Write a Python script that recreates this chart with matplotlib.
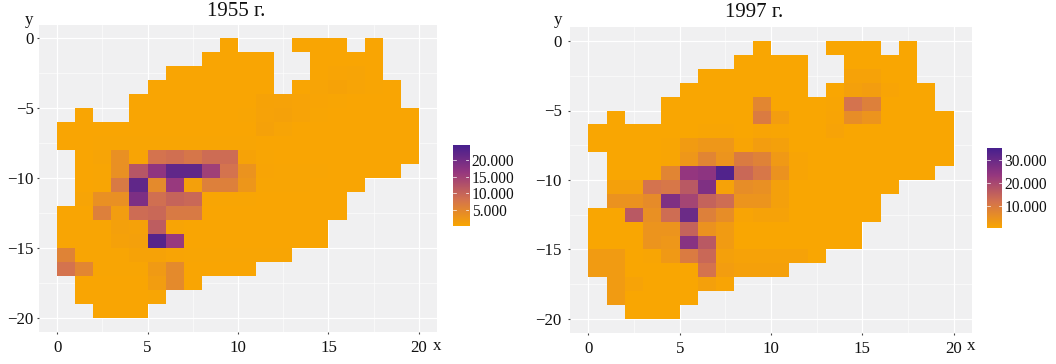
import numpy as np
import matplotlib
matplotlib.use("Agg")
import matplotlib.pyplot as plt
from matplotlib.colors import LinearSegmentedColormap

_ = np.nan
W, H = 1056, 364
COLS = list(range(20))
ROWS = list(range(20))
TICKS_X = [0, 5, 10, 15, 20]
TICKS_Y = [0, -5, -10, -15, -20]
MINOR_X = [2.5, 7.5, 12.5, 17.5]
MINOR_Y = [-2.5, -7.5, -12.5, -17.5]

# values in thousands, rows from y=0 downward, columns from x=0 rightward
V1955 = [
 [_,_,_,_,_,_,_,_,_,.1,_,_,_,.1,.1,.1,_,.1,_,_],
 [_,_,_,_,_,_,_,_,.1,.1,.1,.1,_,_,.1,.1,.1,.1,_,_],
 [_,_,_,_,_,_,.1,.1,.1,.1,.1,.1,_,_,.1,.3,.4,.1,_,_],
 [_,_,_,_,_,.1,.1,.1,.1,.1,.1,.1,_,.1,.4,.6,.4,.2,.1,_],
 [_,_,_,_,.1,.1,.1,.1,.1,.1,.1,.6,.7,.5,.3,.2,.1,.1,.1,_],
 [_,.1,_,_,.1,.1,.1,.1,.1,.1,.2,.7,.8,.5,.2,.1,.1,.1,.1,.1],
 [.1,.1,.1,.1,.1,.1,.1,.1,.1,.1,.1,.8,.4,.1,.1,.1,.1,.1,.1,.1],
 [.1,.1,.2,.2,.2,.2,.2,.2,.2,.2,.2,.1,.1,.1,.1,.1,.1,.1,.1,.1],
 [_,.1,.4,3.5,.3,8,8.5,7.5,9,9,.6,.2,.1,.1,.1,.1,.1,.1,.1,.1],
 [_,.1,.2,3.5,12,17,22,22,15,8,3,.3,.2,.2,.2,.1,.1,.1,.1,_],
 [_,.1,.2,7,22,4.5,16,1,6,6,2.5,.2,.2,.2,.1,.1,.1,_,_,_],
 [_,.4,3.5,3.5,19,8.5,10,9.5,.2,.2,.2,.1,.1,.1,.1,.1,_,_,_,_],
 [.1,.1,6,1.5,9,9.5,7,7,.1,.1,.1,.1,.1,.1,.1,.1,_,_,_,_],
 [.2,.2,.2,1,.8,11,.3,.1,.1,.1,.1,.1,.1,.1,.1,_,_,_,_,_],
 [.2,.2,.2,.8,1,23,16,.1,.1,.1,.1,.1,.1,.1,.1,_,_,_,_,_],
 [5.5,.2,.2,.2,.6,.6,.3,.2,.2,.2,.2,.2,.2,_,_,_,_,_,_,_],
 [8,5,.2,.2,.2,2,4.5,.1,.1,.1,.1,_,_,_,_,_,_,_,_,_],
 [_,.1,.1,.1,.1,1.5,4.5,.1,_,_,_,_,_,_,_,_,_,_,_,_],
 [_,.1,.1,.1,.1,.2,_,_,_,_,_,_,_,_,_,_,_,_,_,_],
 [_,_,.1,.1,.1,_,_,_,_,_,_,_,_,_,_,_,_,_,_,_],
]
V1997 = [
 [_,_,_,_,_,_,_,_,_,.3,_,_,_,.3,.3,.3,_,.3,_,_],
 [_,_,_,_,_,_,_,_,.3,.3,.3,.3,_,_,.5,.5,.4,.3,_,_],
 [_,_,_,_,_,_,.3,.3,.3,.3,.3,.3,_,_,1.5,1.5,.5,.3,_,_],
 [_,_,_,_,_,.3,.3,.3,.3,.3,.3,.3,_,.5,2,2.5,1,.5,.3,_],
 [_,_,_,_,.3,.3,.3,.3,.3,7.5,.5,.3,.5,.8,12,9,.3,.3,.3,_],
 [_,.3,_,_,.3,.3,.3,.3,.3,10,2.5,.3,.5,1,6,4.5,.3,.3,.3,.3],
 [.3,.3,.3,.3,.3,.3,.8,.8,.5,1,.8,.3,.5,1.2,.5,.3,.3,.3,.3,.3],
 [.3,.3,.3,.3,.8,3,4,4,1,2.5,2,.4,.4,.4,.4,.3,.3,.3,.3,.3],
 [_,.3,.3,.5,.8,4,8,4.5,10,8.5,3.5,1,.3,.3,.3,.3,.3,.3,.3,.3],
 [_,.3,.3,.5,8,24,25,34,14,11,5,1,.6,.5,.5,.3,.3,.3,.3,_],
 [_,2,2,12,11,17,27,1.5,6,5.5,2,.4,.4,.4,.4,.4,.3,_,_,_],
 [_,5,5,6.5,27,21,15,13,4.5,4.5,2,.4,.4,.4,.4,.3,_,_,_,_],
 [.3,.3,17,5.5,13,30,9,6,1,1.5,1.5,.3,.3,.3,.3,.3,_,_,_,_],
 [.3,.3,.3,4.5,4.5,15,5,3,.4,.4,.4,.4,.3,.3,.3,_,_,_,_,_],
 [.3,.3,.3,4.5,4,26,17,3,.4,.4,.4,.4,.4,.5,.5,_,_,_,_,_],
 [3,3,.6,.8,3.5,10,14,2,1.5,1.5,1.5,1.5,.5,_,_,_,_,_,_,_],
 [3,3,.6,.3,.3,.3,12,2.5,1.8,1.8,1.8,_,_,_,_,_,_,_,_,_],
 [_,3,1.2,.3,.3,.3,2,1,_,_,_,_,_,_,_,_,_,_,_,_],
 [_,3,.3,.3,.3,.3,_,_,_,_,_,_,_,_,_,_,_,_,_,_],
 [_,_,.3,.3,.3,_,_,_,_,_,_,_,_,_,_,_,_,_,_,_],
]
SCALE_1955 = (0, 24600)
SCALE_1997 = (500, 35600)
BAR_TICKS_1955 = [5000, 10000, 15000, 20000]
BAR_TICKS_1997 = [10000, 20000, 30000]

plt.rcParams['font.family'] = ['Liberation Serif', 'DejaVu Serif']
CMAP = LinearSegmentedColormap.from_list(
    "orange_purple",
    [(0, "#F9A602"), (.33, "#D3724F"), (.66, "#96377F"), (1, "#47208E")])


def px_axes(fig, left, top, right, bottom):
    return fig.add_axes([left / W, 1 - bottom / H, (right - left) / W, (bottom - top) / H])


def panel(fig, box, values, scale, pad):
    ax = px_axes(fig, *box)
    ax.set_facecolor("#F0F0F1")
    ax.set_axisbelow(True)
    ax.set_xlim(-1, 21)
    ax.set_ylim(-21, 1)
    for s in ax.spines.values():
        s.set_visible(False)
    ax.set_xticks(TICKS_X)
    ax.set_yticks(TICKS_Y)
    ax.set_xticks(MINOR_X, minor=True)
    ax.set_yticks(MINOR_Y, minor=True)
    ax.set_yticklabels([str(t).replace("-", "\u2212") for t in TICKS_Y])
    ax.tick_params(which="major", length=1.6, width=.8, color="#444444", labelcolor="#111111",
                   labelsize=12.2)
    ax.tick_params(axis="x", which="major", pad=4.5)
    ax.tick_params(axis="y", which="major", pad=pad)
    ax.tick_params(which="minor", length=0)
    ax.grid(True, which="major", color="white", lw=.9)
    ax.grid(True, which="minor", color="white", lw=.4)
    xedges = np.array(COLS + [COLS[-1] + 1])
    yedges = -np.array(ROWS + [ROWS[-1] + 1])
    ax.pcolormesh(xedges, yedges, np.ma.masked_invalid(np.array(values) * 1000),
                  cmap=CMAP, vmin=scale[0], vmax=scale[1], linewidth=0, zorder=2)
    return ax


def colorbar(fig, box, scale, ticks):
    ax = px_axes(fig, *box)
    grad = np.linspace(scale[0], scale[1], 256)[:, None]
    ax.imshow(grad, origin="lower", aspect="auto", cmap=CMAP, vmin=scale[0], vmax=scale[1],
              extent=[0, 1, scale[0], scale[1]])
    for s in ax.spines.values():
        s.set_visible(False)
    ax.set_xticks([])
    ax.yaxis.tick_right()
    ax.set_yticks(ticks)
    ax.set_yticklabels([f"{t:,}".replace(",", ".") for t in ticks])
    ax.tick_params(axis="y", length=0, pad=2, labelsize=11.2, labelcolor="#111111")
    for t in ticks:
        ax.plot([0, .2], [t, t], color="white", lw=.5)
        ax.plot([.8, 1], [t, t], color="white", lw=.5)
    ax.set_xlim(0, 1)
    ax.set_ylim(*scale)


def label(fig, x, y, s, size):
    fig.text(x / W, 1 - y / H, s, ha="center", va="center", fontsize=size, color="#111111")


fig = plt.figure(figsize=(W / 100, H / 100), dpi=100, facecolor="white")
panel(fig, (39, 24.5, 437, 331.7), V1955, SCALE_1955, 2.2)
panel(fig, (570, 27.1, 972, 332.9), V1997, SCALE_1997, 4.5)
colorbar(fig, (452.7, 145, 469, 226), SCALE_1955, BAR_TICKS_1955)
colorbar(fig, (986.7, 147.7, 1001.7, 227.7), SCALE_1997, BAR_TICKS_1997)
label(fig, 236, 11.5, "1955 г.", 15)
label(fig, 754, 12.5, "1997 г.", 15)
label(fig, 29.5, 20, "y", 12.2)
label(fig, 558, 20, "y", 12.2)
label(fig, 437, 346, "x", 12.2)
label(fig, 971, 346, "x", 12.2)
fig.savefig("out.png", dpi=100)
